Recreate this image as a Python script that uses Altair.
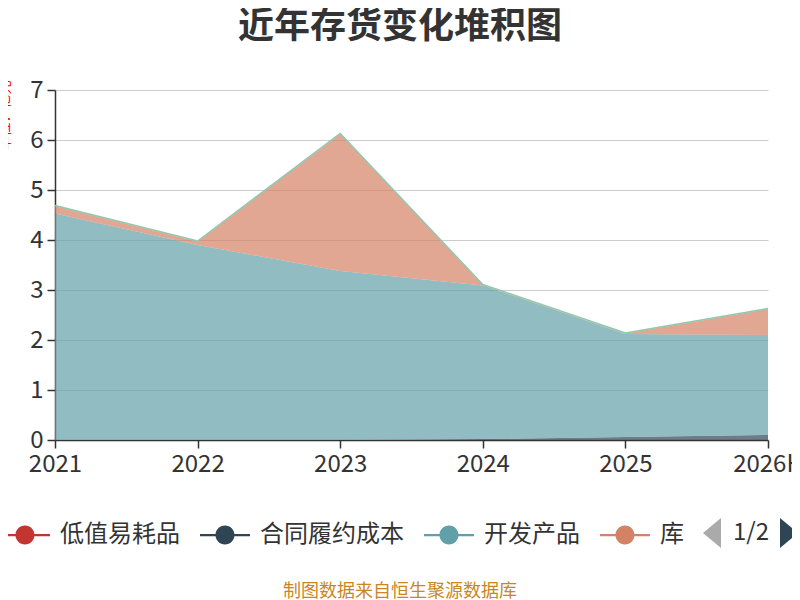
import altair as alt
import pandas as pd

years = ["2021", "2022", "2023", "2024", "2025", "2026H"]
series_names = ["低值易耗品", "合同履约成本", "开发产品", "库存商品", "原材料"]
v_dizhi = [0.0, 0.0, 0.0, 0.0, 0.0, 0.0]
v_hetong = [0.0, 0.0, 0.0, 0.02, 0.06, 0.10]
v_kaifa = [4.53, 3.90, 3.38, 3.07, 2.06, 2.00]
v_kucun = [0.15, 0.07, 2.74, 0.01, 0.01, 0.52]
v_yuan = [0.01, 0.01, 0.01, 0.01, 0.01, 0.01]
colors = ["#c23531", "#2f4554", "#61a0a8", "#d48265", "#91c7ae"]
legend_shown = ["低值易耗品", "合同履约成本", "开发产品", "库存商品"]
title_text = "近年存货变化堆积图"
source_text = "制图数据来自恒生聚源数据库"
pager_text = "1/2"

all_vals = [v_dizhi, v_hetong, v_kaifa, v_kucun, v_yuan]
rows = []
for i, (name, vals) in enumerate(zip(series_names, all_vals)):
    for y, v in zip(years, vals):
        rows.append({"year": y, "series": name, "value": v, "idx": i})
df = pd.DataFrame(rows)

FONT = "Noto Sans CJK SC"

x_enc = alt.X(
    "year:N", sort=years, scale=alt.Scale(type="point", padding=0),
    axis=alt.Axis(title=None, labelAngle=0, grid=False, tickSize=8, tickWidth=1.5,
                  domainColor="#333", tickColor="#333", domainWidth=1.5,
                  labelFontSize=24, labelColor="#333", labelFont=FONT, labelPadding=4),
)
y_enc = alt.Y(
    "value:Q", stack="zero", scale=alt.Scale(domain=[0, 7], nice=False),
    axis=alt.Axis(values=[0, 1, 2, 3, 4, 5, 6, 7], grid=True, gridColor="#cccccc",
                  domainColor="#333", tickColor="#333", tickSize=8, tickWidth=1.5, domainWidth=1.5,
                  labelFontSize=24, labelColor="#333", labelFont=FONT, labelPadding=4,
                  title="单位：亿元", titleColor="red", titleFontSize=14, titleFont=FONT,
                  titleFontWeight="normal", titleX=-44, titleY=25, titleAngle=270,
                  titleBaseline="bottom", titleAlign="center"),
)

base = alt.Chart(df).encode(x=x_enc, y=y_enc, order=alt.Order("idx:Q"))

legend_symbol = (
    "M-1,-0.045L-0.34,-0.045L-0.34,0.045L-1,0.045Z"
    "M0.34,-0.045L1,-0.045L1,0.045L0.34,0.045Z"
    "M-0.38,0A0.38,0.38,0,1,1,0.38,0A0.38,0.38,0,1,1,-0.38,0Z"
)

area = base.mark_area(opacity=0.7).encode(
    color=alt.Color(
        "series:N",
        scale=alt.Scale(domain=series_names, range=colors),
        legend=alt.Legend(
            title=None, orient="none", direction="horizontal", legendX=-55, legendY=420,
            values=legend_shown,
            symbolType=legend_symbol,
            symbolSize=2500, symbolStrokeWidth=0, symbolOpacity=1,
            labelFontSize=24, labelColor="#333", labelFont=FONT, labelOffset=10,
            columnPadding=20, labelLimit=300,
            labelExpr="datum.label == '库存商品' ? '库' : datum.label",
        ),
    )
)

top_line = base.mark_line(strokeWidth=1.5, color="#91c7ae").encode(
    detail="series:N",
    strokeOpacity=alt.condition(alt.datum.series == "原材料", alt.value(1), alt.value(0)),
)

title_mark = alt.Chart(pd.DataFrame({"t": [title_text]})).mark_text(
    fontSize=36, fontWeight="bold", color="#333", font=FONT, align="center", baseline="middle"
).encode(x=alt.value(345), y=alt.value(-63), text="t:N")

src = alt.Chart(pd.DataFrame({"t": [source_text]})).mark_text(
    fontSize=18, color="#ca8622", font=FONT, align="center", baseline="middle"
).encode(x=alt.value(345), y=alt.value(502), text="t:N")

pager = alt.Chart(pd.DataFrame({"t": [pager_text]})).mark_text(
    fontSize=24, color="#333", font=FONT, align="center", baseline="middle"
).encode(x=alt.value(696), y=alt.value(443), text="t:N")

tri_l = alt.Chart(pd.DataFrame({"a": [0]})).mark_point(
    shape="M0.6,-1L-0.6,0L0.6,1Z", filled=True, size=900, color="#aaaaaa", opacity=1
).encode(x=alt.value(657), y=alt.value(443))

tri_r = alt.Chart(pd.DataFrame({"a": [0]})).mark_point(
    shape="M-0.6,-1L0.6,0L-0.6,1Z", filled=True, size=900, color="#2f4554", opacity=1
).encode(x=alt.value(734), y=alt.value(443))

chart = alt.layer(area, top_line, title_mark, src, pager, tri_l, tri_r).properties(
    width=713, height=350,
    autosize=alt.AutoSizeParams(type="none"),
    padding={"left": 47, "top": 82, "right": 24, "bottom": 160},
).configure_view(strokeWidth=0)

chart.save("out.html", embed_options={"renderer": "svg", "actions": False})
